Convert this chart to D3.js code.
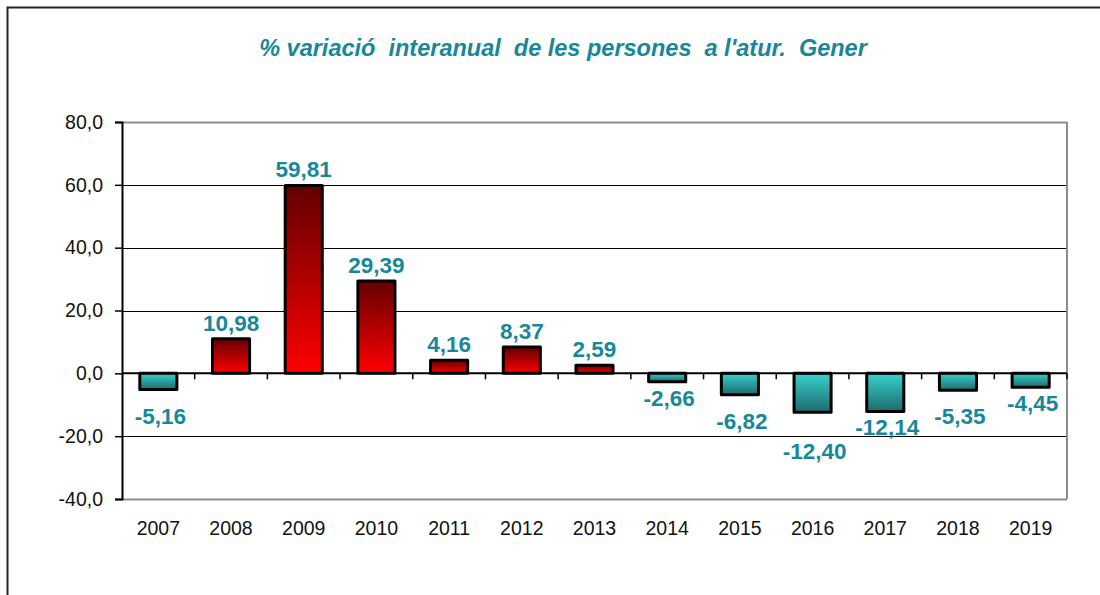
<!DOCTYPE html>
<html>
<head>
<meta charset="utf-8">
<script src="https://cdn.jsdelivr.net/npm/d3@7"></script>
<style>
  body { margin: 0; background: #fff; }
  svg text { font-family: "Liberation Sans", Arial, sans-serif; }
</style>
</head>
<body>
<div id="chart"></div>
<script>
// Chart data
var years = ["2007", "2008", "2009", "2010", "2011", "2012", "2013",
             "2014", "2015", "2016", "2017", "2018", "2019"];
var values = [-5.16, 10.98, 59.81, 29.39, 4.16, 8.37, 2.59,
              -2.66, -6.82, -12.40, -12.14, -5.35, -4.45];
var yTicks = [-40, -20, 0, 20, 40, 60, 80];
var title = "% variació  interanual  de les persones  a l'atur.  Gener";

var W = 1100, H = 595;
var margin = {top: 122, right: 33, bottom: 96, left: 122};
var width = W - margin.left - margin.right;
var height = H - margin.top - margin.bottom;

var teal = "#17889a";

var svg = d3.select("#chart").append("svg")
    .attr("width", W)
    .attr("height", H);

// outer chart frame (only top and left visible in the picture)
svg.append("rect")
    .attr("x", 7.5).attr("y", 7.5)
    .attr("width", W + 20).attr("height", H + 20)
    .attr("fill", "none")
    .attr("stroke", "#222")
    .attr("stroke-width", 2);

// gradients
var defs = svg.append("defs");
var gPos = defs.append("linearGradient").attr("id", "gradPos")
    .attr("x1", 0).attr("y1", 0).attr("x2", 0).attr("y2", 1);
gPos.append("stop").attr("offset", "0%").attr("stop-color", "#640000");
gPos.append("stop").attr("offset", "100%").attr("stop-color", "#ff0000");
var gNeg = defs.append("linearGradient").attr("id", "gradNeg")
    .attr("x1", 0).attr("y1", 0).attr("x2", 0).attr("y2", 1);
gNeg.append("stop").attr("offset", "0%").attr("stop-color", "#38d0d0");
gNeg.append("stop").attr("offset", "100%").attr("stop-color", "#1d6b6b");

// title
svg.append("text")
    .attr("x", 563)
    .attr("y", 56)
    .attr("text-anchor", "middle")
    .style("white-space", "pre")
    .attr("xml:space", "preserve")
    .style("font-size", "23.5px")
    .style("font-weight", "bold")
    .style("font-style", "italic")
    .attr("fill", teal)
    .text(title);

var g = svg.append("g")
    .attr("transform", "translate(" + margin.left + "," + margin.top + ")");

var x = d3.scaleBand()
    .domain(years)
    .range([0, width])
    .paddingInner(0.49)
    .paddingOuter(0.245);

var xTicks = d3.scalePoint().domain(d3.range(years.length + 1)).range([0, width]);

var y = d3.scaleLinear()
    .domain([-40, 80])
    .range([height, 0]);

// horizontal gridlines
g.selectAll("line.grid")
    .data(yTicks.filter(function(d) { return d !== 0; }))
  .enter().append("line")
    .attr("class", "grid")
    .attr("x1", 0)
    .attr("x2", width)
    .attr("y1", function(d) { return Math.round(y(d)) + 0.5; })
    .attr("y2", function(d) { return Math.round(y(d)) + 0.5; })
    .attr("stroke", function(d) { return (d === 80 || d === -40) ? "#8c8c8c" : "#000"; })
    .attr("stroke-width", function(d) { return (d === 80 || d === -40) ? 2 : 1.2; });

// plot area right border
g.append("line")
    .attr("x1", width).attr("x2", width)
    .attr("y1", 0).attr("y2", height)
    .attr("stroke", "#8c8c8c")
    .attr("stroke-width", 2);

// bars
g.selectAll("rect.bar")
    .data(values)
  .enter().append("rect")
    .attr("class", "bar")
    .attr("x", function(d, i) { return x(years[i]); })
    .attr("width", x.bandwidth())
    .attr("y", function(d) { return y(Math.max(0, d)); })
    .attr("height", function(d) { return Math.abs(y(d) - y(0)); })
    .attr("fill", function(d) { return d >= 0 ? "url(#gradPos)" : "url(#gradNeg)"; })
    .attr("stroke", "#000")
    .attr("stroke-width", 3)
    .attr("stroke-linejoin", "round");

// zero line with category ticks
g.append("line")
    .attr("x1", 0).attr("x2", width)
    .attr("y1", y(0)).attr("y2", y(0))
    .attr("stroke", "#000")
    .attr("stroke-width", 2);
g.selectAll("line.ctick")
    .data(d3.range(1, years.length + 1))
  .enter().append("line")
    .attr("class", "ctick")
    .attr("x1", function(d) { return xTicks(d); })
    .attr("x2", function(d) { return xTicks(d); })
    .attr("y1", y(0))
    .attr("y2", y(0) + 6)
    .attr("stroke", "#000")
    .attr("stroke-width", 1.5);

// y axis
var yAxis = g.append("g")
    .call(d3.axisLeft(y)
        .tickValues(yTicks)
        .tickSize(7)
        .tickPadding(12)
        .tickFormat(function(d) { return d.toFixed(1).replace(".", ","); }));
yAxis.select(".domain").attr("stroke", "#000").attr("stroke-width", 2);
yAxis.selectAll(".tick line").attr("stroke", "#000").attr("stroke-width", 1.5);
yAxis.selectAll(".tick text")
    .attr("fill", "#111")
    .style("font-size", "19.5px")
    .style("font-family", "'Liberation Sans', Arial, sans-serif");

// x labels
g.selectAll("text.xlab")
    .data(years)
  .enter().append("text")
    .attr("class", "xlab")
    .attr("x", function(d) { return x(d) + x.bandwidth() / 2; })
    .attr("y", height + 36)
    .attr("text-anchor", "middle")
    .attr("fill", "#111")
    .style("font-size", "19.5px")
    .text(function(d) { return d; });

// value labels (negative labels staggered to avoid overlap, as in the original)
var negExtra = {"2007": 10, "2015": 10, "2016": 23, "2018": 10};
g.selectAll("text.vlab")
    .data(values)
  .enter().append("text")
    .attr("class", "vlab")
    .attr("x", function(d, i) { return x(years[i]) + x.bandwidth() / 2 + (d < 0 ? 2 : 0); })
    .attr("y", function(d, i) {
        if (d >= 0) return y(d) - 8;
        return y(d) + 24 + (negExtra[years[i]] || 0);
    })
    .attr("text-anchor", "middle")
    .attr("fill", teal)
    .style("font-size", "22.5px")
    .style("font-weight", "bold")
    .text(function(d) { return d.toFixed(2).replace(".", ","); });
</script>
</body>
</html>
